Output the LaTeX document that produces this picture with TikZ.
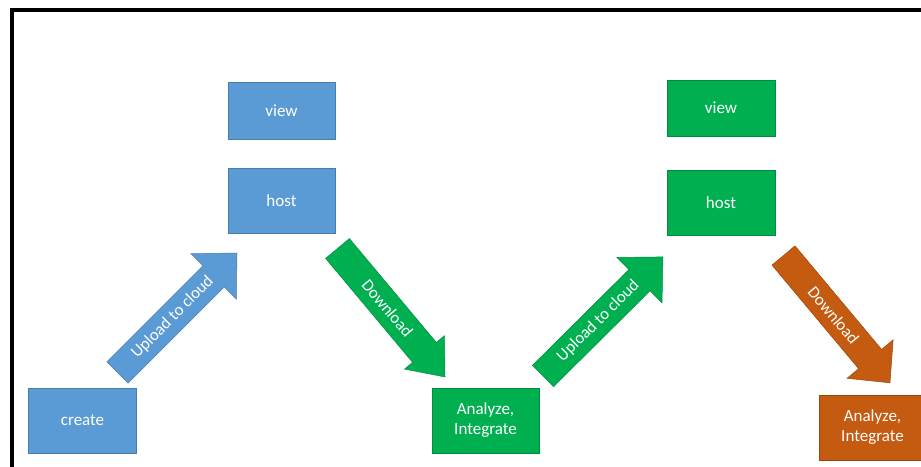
\documentclass[tikz,border=0pt]{standalone}
\usepackage{fontspec}
\setmainfont{Carlito}
\usetikzlibrary{calc}
\definecolor{cblue}{HTML}{5B9BD5}
\definecolor{cgreen}{HTML}{00B050}
\definecolor{corange}{HTML}{C55A11}
\tikzset{
 box/.style={draw=#1!80!black, line width=0.6pt, fill=#1, text=white,
   minimum width=107pt, minimum height=65pt, inner sep=0pt, align=center,
   font=\fontsize{17}{20}\selectfont},
 lbl/.style={text=white, font=\fontsize{16.8}{20}\selectfont, inner sep=0pt},
 frameline/.style={line width=4pt, black},
}
% #1 name, #2 tail, #3 angle, #4 length, #5 shaft half, #6 head half, #7 head length, #8 colour, #9 text
\newcommand\blkarrow[9]{%
 \begin{scope}[shift={(#2)}, rotate=#3]
  \fill[#8, draw=#8!80!black, line width=0.5pt] (0,-#5) -- ({#4-#7},-#5) -- ({#4-#7},-#6) -- (#4,0)
    -- ({#4-#7},#6) -- ({#4-#7},#5) -- (0,#5) -- cycle;
  \node[lbl, rotate=#3] (#1) at (78,0) {#9};
 \end{scope}}
\begin{document}
\begin{tikzpicture}[x=1pt,y=1pt]
\clip (0,0) rectangle (921,466);
\useasboundingbox (0,0) rectangle (921,466);
\fill[white] (0,0) rectangle (921,466);
\draw[frameline] (12,-20) -- (12,455.7) -- (960,455.7);

\node[box=cblue, minimum width=108pt] (create) at (82.5,45.5) {create};
\node[box=cblue, minimum height=57pt] (view1) at (281.5,355.5) {view};
\node[box=cblue] (host1) at (281.5,265.5) {host};
\node[box=cgreen, minimum width=108pt, minimum height=56pt] (view2) at (721,358) {view};
\node[box=cgreen, minimum width=108pt] (host2) at (721,263.5) {host};
\node[box=cgreen] (an1) at (485.5,45.5) {Analyze,\\Integrate};
\node[box=corange] (an2) at (872.5,38.5) {Analyze,\\Integrate};

\blkarrow{up1}{117.5,93.5}{45}{169}{15}{32}{33}{cblue}{Upload to cloud}
\blkarrow{down1}{337.5,217.5}{-50.07}{167.5}{15.5}{26}{32}{cgreen}{Download}
\blkarrow{up2}{543,90}{44.8}{169}{15}{32}{33}{cgreen}{Upload to cloud}
\blkarrow{down2}{783.5,210.5}{-50.1}{166}{15}{30}{31}{corange}{Download}
\end{tikzpicture}
\end{document}
